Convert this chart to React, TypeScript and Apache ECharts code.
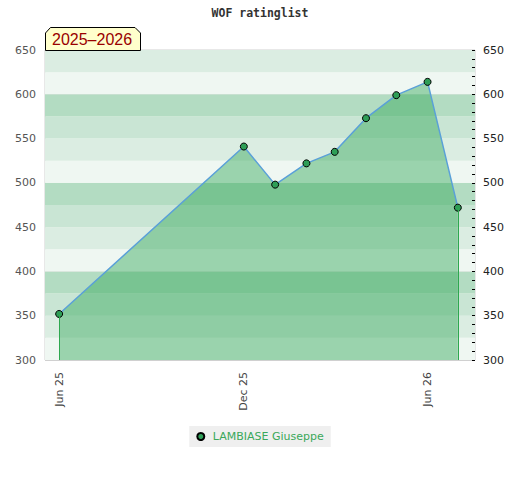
import React, { useEffect, useRef } from 'react';
import * as echarts from 'echarts';

const TITLE = 'WOF ratinglist';
const SEASON = '2025–2026';
const PLAYER = 'LAMBIASE Giuseppe';

const dates = [
  '2025-06-01', '2025-12-01', '2026-01-01', '2026-02-01', '2026-03-01',
  '2026-04-01', '2026-05-01', '2026-06-01', '2026-07-01',
];
const ratings = [352, 541, 498, 522, 535, 573, 599, 614, 472];

const xRange = ['2025-05-18', '2026-07-18'];
const xLabelDates = ['2025-06-01', '2025-12-01', '2026-06-01'];
const monthNames = ['Jan', 'Feb', 'Mar', 'Apr', 'May', 'Jun', 'Jul', 'Aug', 'Sep', 'Oct', 'Nov', 'Dec'];

const yMin = 300;
const yMax = 650;
const yLabelStep = 50;
const bandStep = 25;
const bandColors = ['#eff7f2', '#dbede2', '#c9e5d4', '#b3dcc2'];

const toTime = (s: string) => {
  const [y, m, d] = s.split('-').map(Number);
  return new Date(y, m - 1, d).getTime();
};

const FONT = 'DejaVu Sans';

export default function App() {
  const ref = useRef<HTMLDivElement>(null);

  useEffect(() => {
    if (!ref.current) return;
    const chart = echarts.init(ref.current, null, { renderer: 'svg' });
    const times = dates.map(toTime);
    const last = dates.length - 1;
    chart.setOption({
      animation: false,
      title: {
        text: TITLE,
        left: 'center',
        top: 2,
        textStyle: { fontFamily: 'DejaVu Sans Mono', fontWeight: 'bold', fontSize: 11.5, color: '#333' },
      },
      legend: {
        data: [PLAYER],
        left: 'center',
        top: 426,
        icon: 'circle',
        itemWidth: 14,
        itemHeight: 7,
        backgroundColor: '#efefef',
        padding: [5, 7],
        textStyle: { color: '#3aa85a', fontSize: 11, fontFamily: FONT },
      },
      grid: {
        left: 45,
        right: 45,
        top: 50,
        bottom: 120,
        show: true,
        borderColor: '#d0d0d0',
        borderWidth: 1,
        backgroundColor: 'transparent',
        outerBoundsMode: 'none',
      },
      xAxis: {
        type: 'value',
        min: toTime(xRange[0]),
        max: toTime(xRange[1]),
        axisLine: { show: false },
        axisTick: { show: false },
        splitLine: { show: false },
        axisLabel: {
          customValues: xLabelDates.map(toTime),
          rotate: 90,
          margin: 12,
          color: '#444',
          fontSize: 11,
          fontFamily: FONT,
          formatter: (v: number) => {
            const d = new Date(v);
            return monthNames[d.getMonth()] + ' ' + String(d.getFullYear()).slice(2);
          },
        },
      },
      yAxis: [
        {
          type: 'value',
          position: 'left',
          min: yMin,
          max: yMax,
          interval: yLabelStep,
          axisLine: { show: false },
          axisTick: { show: false },
          axisLabel: { color: '#555', fontSize: 11, fontFamily: FONT, margin: 9 },
          splitLine: { show: true, lineStyle: { color: ['#d0d0d0', 'rgba(0,0,0,0)'], width: 1 } },
          splitArea: { show: false },
        },
        {
          type: 'value',
          position: 'right',
          min: yMin,
          max: yMax,
          interval: yLabelStep,
          axisLine: { show: false },
          axisTick: { show: true, inside: true, length: 3, lineStyle: { color: '#000' } },
          minorTick: { show: true, splitNumber: 5, length: 3, lineStyle: { color: '#000' } },
          axisLabel: { color: '#222', fontSize: 11, fontFamily: FONT, margin: 8 },
          splitLine: { show: false },
        },
        {
          type: 'value',
          position: 'left',
          min: yMin,
          max: yMax,
          interval: bandStep,
          axisLine: { show: false },
          axisTick: { show: false },
          axisLabel: { show: false },
          splitLine: { show: false },
          splitArea: { show: true, areaStyle: { color: bandColors } },
        },
      ],
      series: [
        {
          type: 'line',
          name: PLAYER,
          yAxisIndex: 0,
          data: times.map((t, i) => [t, ratings[i]]),
          symbol: 'circle',
          symbolSize: 7,
          lineStyle: { color: '#5aa0d8', width: 1.5 },
          itemStyle: { color: '#2e9e57', borderColor: '#000', borderWidth: 1 },
          areaStyle: { color: '#32a759', opacity: 0.45, origin: 'start' },
          markLine: {
            silent: true,
            symbol: ['none', 'none'],
            label: { show: false },
            lineStyle: { type: 'solid', color: '#2ea84f', width: 1 },
            data: [0, last].map((i) => [
              { coord: [times[i], ratings[i]] },
              { coord: [times[i], yMin] },
            ]),
          },
        },
      ],
      graphic: [
        {
          type: 'polygon',
          z: 100,
          shape: {
            points: [[45.5, 50.5], [45.5, 33], [50.5, 27.5], [135, 27.5], [140.5, 33], [140.5, 50.5]],
          },
          style: { fill: '#ffffcc', stroke: '#000', lineWidth: 1 },
        },
        {
          type: 'text',
          z: 101,
          x: 52,
          y: 39.5,
          style: {
            text: SEASON,
            fill: '#990000',
            fontSize: 16,
            fontFamily: 'Liberation Sans',
            verticalAlign: 'middle',
          },
        },
      ],
    });
    return () => chart.dispose();
  }, []);

  return (
    <div
      ref={ref}
      style={{ position: 'fixed', left: 0, top: 0, width: 520, height: 480, background: '#fff' }}
    />
  );
}
